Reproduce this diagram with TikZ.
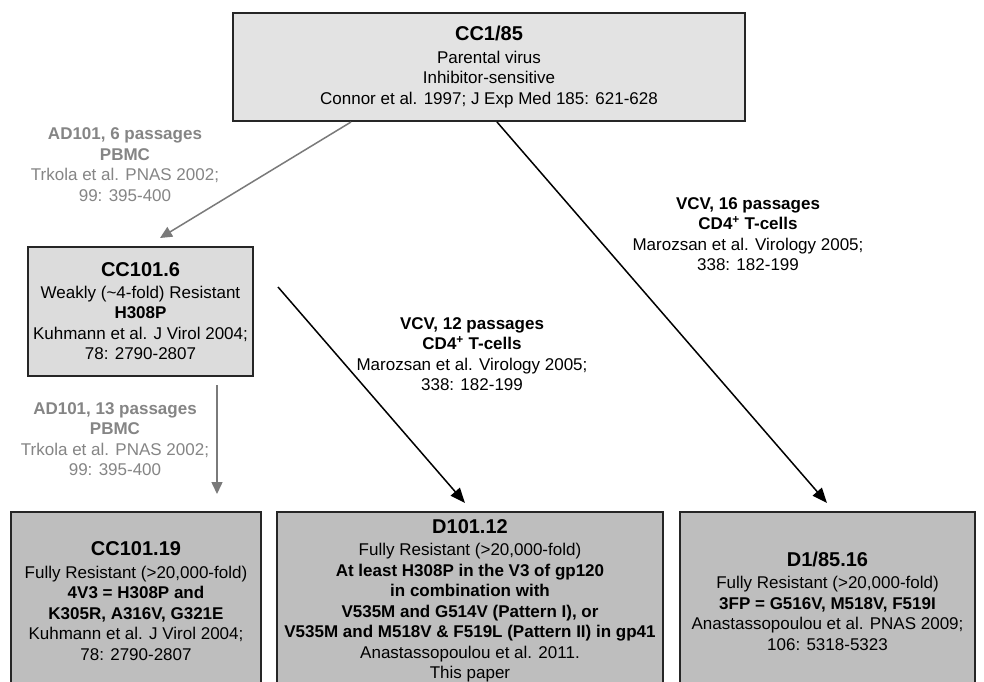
\documentclass[tikz,border=0pt]{standalone}
\usepackage{fontspec}
\setmainfont{Liberation Sans}
\usetikzlibrary{arrows.meta}
\definecolor{lightbox}{HTML}{E3E3E3}
\definecolor{midbox}{HTML}{DCDCDC}
\definecolor{darkbox}{HTML}{BEBEBE}
\definecolor{labelgray}{HTML}{858585}
\definecolor{arrowgray}{HTML}{7A7A7A}
\definecolor{edgecol}{HTML}{262626}
\newcommand\ttl[1]{{\fontsize{20}{24}\selectfont\bfseries #1}}
\tikzset{
  box/.style={draw=edgecol, line width=1.7pt, align=center, inner sep=0pt,
    font=\fontsize{17}{20.5}\selectfont},
  lbl/.style={align=center, inner sep=0pt, font=\fontsize{17}{20.5}\selectfont},
  garrow/.style={draw=arrowgray, line width=1.5pt, -{Triangle[length=12pt,width=11pt]}},
  barrow/.style={draw=black, line width=1.5pt, -{Triangle[length=15pt,width=12pt]}}
}
\begin{document}
\begin{tikzpicture}[x=1pt,y=-1pt]
\useasboundingbox (0,0) rectangle (984,681);
\clip (0,0) rectangle (984,681);
\fill[white] (0,0) rectangle (984,681);

% boxes
\node[box, fill=lightbox, minimum width=512pt, minimum height=108pt] (cc185) at (489,67)
  {\ttl{CC1/85}\\[2pt]Parental virus\\Inhibitor-sensitive\\Connor et al. 1997; J Exp Med 185: 621-628};
\node[box, fill=midbox, minimum width=225pt, minimum height=129pt] (cc1016) at (140.5,311.5)
  {\ttl{CC101.6}\\[1pt]Weakly (\textasciitilde4-fold) Resistant\\\textbf{H308P}\\Kuhmann et al. J Virol 2004;\\78: 2790-2807};
\node[box, fill=darkbox, minimum width=250pt, minimum height=178pt] (cc10119) at (136,601)
  {\ttl{CC101.19}\\[2.5pt]Fully Resistant (>20,000-fold)\\\textbf{4V3 = H308P and}\\\textbf{K305R, A316V, G321E}\\Kuhmann et al. J Virol 2004;\\78: 2790-2807};
\node[box, fill=darkbox, minimum width=386pt, minimum height=178pt] (d10112) at (470,601)
  {\ttl{D101.12}\\[2pt]Fully Resistant (>20,000-fold)\\\textbf{At least H308P in the V3 of gp120}\\\textbf{in combination with}\\\textbf{V535M and G514V (Pattern I), or}\\\textbf{V535M and M518V \& F519L (Pattern II) in gp41}\\Anastassopoulou et al. 2011.\\This paper};
\node[box, fill=darkbox, minimum width=295pt, minimum height=178pt] (d18516) at (827.5,601)
  {\ttl{D1/85.16}\\[2pt]Fully Resistant (>20,000-fold)\\\textbf{3FP = G516V, M518V, F519I}\\Anastassopoulou et al. PNAS 2009;\\106: 5318-5323};

% labels
\node[lbl, text=labelgray] (l1) at (125,164.5)
  {\textbf{AD101, 6 passages}\\\textbf{PBMC}\\Trkola et al. PNAS 2002;\\99: 395-400};
\node[lbl, text=labelgray] (l2) at (115,439)
  {\textbf{AD101, 13 passages}\\\textbf{PBMC}\\Trkola et al. PNAS 2002;\\99: 395-400};
\node[lbl] (l3) at (472,354)
  {\textbf{VCV, 12 passages}\\\textbf{CD4\textsuperscript{+} T-cells}\\Marozsan et al. Virology 2005;\\338: 182-199};
\node[lbl] (l4) at (748,234)
  {\textbf{VCV, 16 passages}\\\textbf{CD4\textsuperscript{+} T-cells}\\Marozsan et al. Virology 2005;\\338: 182-199};

% arrow end points
\coordinate (a1s) at (351,122);
\coordinate (a1e) at (160,238);
\coordinate (a2s) at (497,122);
\coordinate (a2e) at (827,503);
\coordinate (a3s) at (217,385);
\coordinate (a3e) at (217,494);
\coordinate (a4s) at (278,287);
\coordinate (a4e) at (465,503);

\draw[garrow] (a1s) -- (a1e);
\draw[barrow] (a2s) -- (a2e);
\draw[garrow] (a3s) -- (a3e);
\draw[barrow] (a4s) -- (a4e);
\end{tikzpicture}
\end{document}
